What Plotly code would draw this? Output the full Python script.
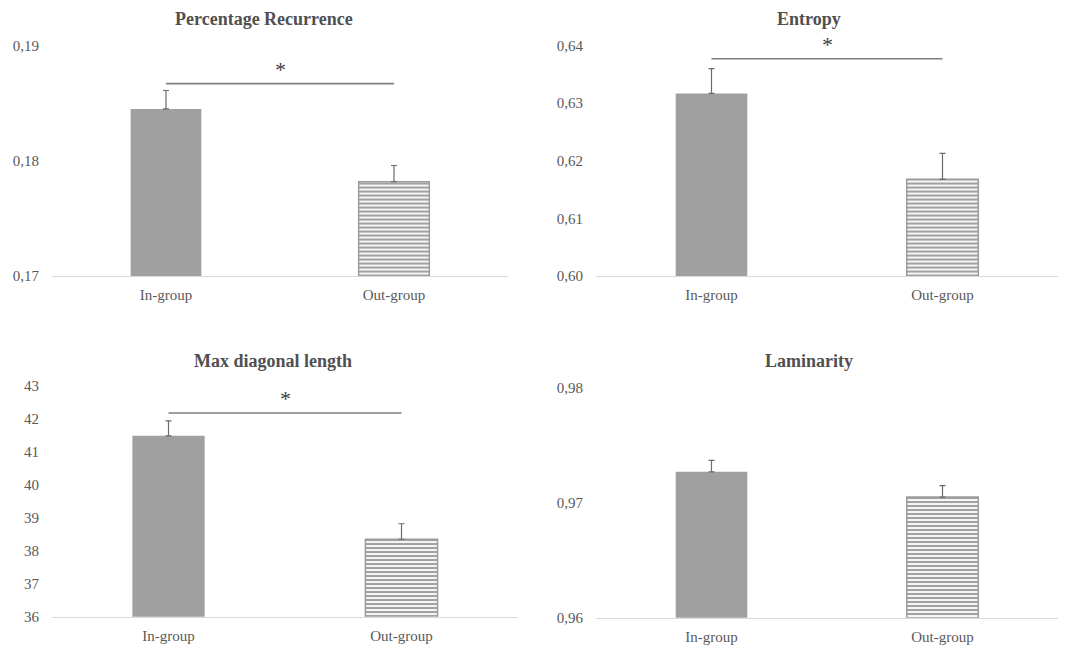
import plotly.graph_objects as go

categories = ["In-group", "Out-group"]

titles = ["Percentage Recurrence", "Entropy", "Max diagonal length", "Laminarity"]
means = [
    [0.1845, 0.1782],
    [0.6317, 0.6168],
    [41.49, 38.35],
    [0.9727, 0.9705],
]
errors = [
    [0.0016, 0.0014],
    [0.0043, 0.0045],
    [0.45, 0.47],
    [0.0010, 0.0010],
]
y_ranges = [
    [0.17, 0.19],
    [0.60, 0.64],
    [36, 43],
    [0.96, 0.98],
]
y_dticks = [0.01, 0.01, 1, 0.01]
y_formats = [".2f", ".2f", "d", ".2f"]
sig_levels = [0.1867, 0.6377, 42.18, None]

W, H = 1073, 646
# observed vertical mapping of the viewer: shown_y = V_OFF + V_SCALE * drawn_y
V_OFF, V_SCALE = 7.4, 0.9767


def py(y):
    """paper fraction that lands at target pixel row y"""
    return 1 - ((y - V_OFF) / V_SCALE) / H


# pixel boxes of each plot area: (left, right, top, bottom)
boxes = [
    (52, 508, 45, 276),
    (596, 1058, 45, 276),
    (52, 518, 386, 617),
    (596, 1058, 388, 618),
]
title_pos = [(264, 18), (809, 18), (273, 361), (809, 361)]

FONT = "Liberation Serif"
TXT = "#595959"
BAR_GRAY = "#a0a0a0"
STRIPE = "#9c9c9c"

fig = go.Figure()
annotations = []
shapes = []

for i in range(4):
    suffix = "" if i == 0 else str(i + 1)
    xa, ya = "x" + suffix, "y" + suffix
    fig.add_trace(go.Bar(
        x=categories,
        y=means[i],
        width=0.31,
        xaxis=xa,
        yaxis=ya,
        marker=dict(
            color=[BAR_GRAY, "white"],
            line=dict(color=[BAR_GRAY, STRIPE], width=[0, 1.5]),
            pattern=dict(shape=["", "-"], fgcolor=STRIPE, bgcolor="white",
                         size=4, solidity=0.55, fillmode="overlay"),
        ),
        error_y=dict(type="data", symmetric=False, array=errors[i],
                     arrayminus=[0, 0], color="#6b6b6b", thickness=1.2, width=3),
        showlegend=False,
    ))
    l, r, t, b = boxes[i]
    fig.layout["xaxis" + suffix] = dict(
        domain=[l / W, r / W], anchor=ya, range=[-0.5, 1.5],
        showline=True, linecolor="#d9d9d9", linewidth=1.2,
        showgrid=False, zeroline=False, ticks="",
        tickfont=dict(family=FONT, size=15, color=TXT),
        ticklabelstandoff=5, fixedrange=True,
    )
    fig.layout["yaxis" + suffix] = dict(
        domain=[py(b), py(t)], anchor=xa, range=y_ranges[i],
        dtick=y_dticks[i], tick0=y_ranges[i][0], tickformat=y_formats[i],
        showline=False, showgrid=False, zeroline=False, ticks="",
        tickfont=dict(family=FONT, size=15, color=TXT),
        ticklabelstandoff=12, fixedrange=True,
    )
    tx, ty = title_pos[i]
    annotations.append(dict(
        text="<b>" + titles[i] + "</b>", x=tx / W, y=py(ty),
        xref="paper", yref="paper", xanchor="center", yanchor="middle",
        showarrow=False, font=dict(family=FONT, size=18, color="#505050"),
    ))
    if sig_levels[i] is not None:
        shapes.append(dict(
            type="line", xref=xa, yref=ya, x0=0, x1=1,
            y0=sig_levels[i], y1=sig_levels[i],
            line=dict(color="#7f7f7f", width=1.6),
        ))
        annotations.append(dict(
            text="*", x=0.5, y=sig_levels[i], xref=xa, yref=ya,
            xanchor="center", yanchor="bottom", yshift=0, showarrow=False,
            font=dict(family=FONT, size=22, color="#404040"),
        ))

fig.update_layout(
    width=W, height=H,
    margin=dict(l=0, r=0, t=0, b=0),
    paper_bgcolor="white", plot_bgcolor="white",
    separators=", ",
    annotations=annotations,
    shapes=shapes,
    bargap=0.4,
)

fig.write_html(
    "out.html",
    config={"displayModeBar": False},
    post_script="document.body.style.margin='0';document.body.style.overflow='hidden';",
)
